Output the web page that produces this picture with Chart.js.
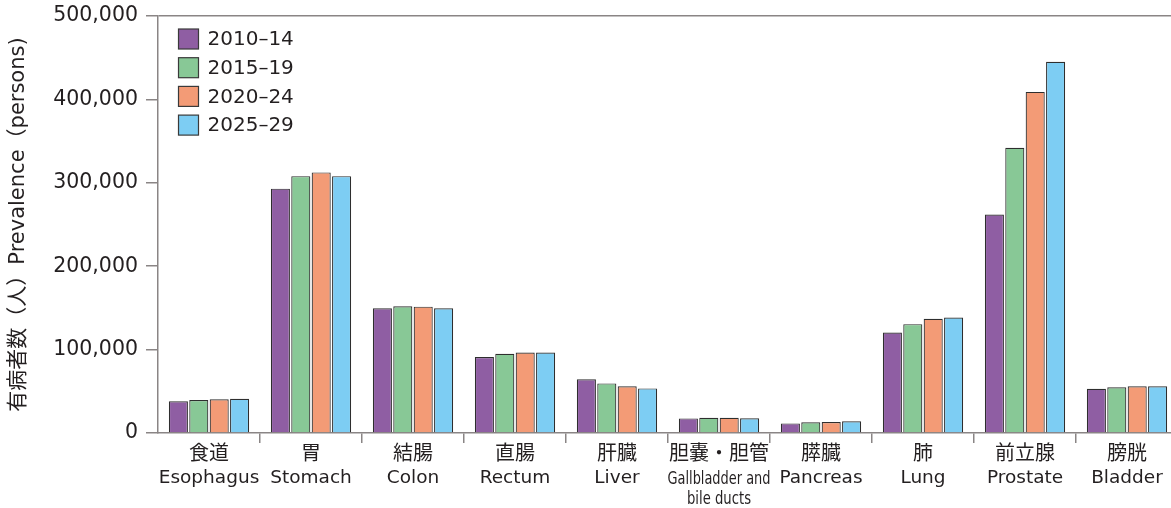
<!DOCTYPE html>
<html>
<head>
<meta charset="utf-8">
<script src="https://cdn.jsdelivr.net/npm/chart.js@4.4.1/dist/chart.umd.min.js"></script>
<style>
  html, body { margin: 0; padding: 0; background: #fff; overflow: hidden; }
  /* plot runs a few px past the right edge of the window, as in the original */
  #wrap { width: 1178px; height: 508px; position: relative; }
</style>
</head>
<body>
<div id="wrap"><canvas id="prevChart"></canvas></div>
<script>
// categories (Japanese line + English line(s))
const categoriesJa = ['食道', '胃', '結腸', '直腸', '肝臓', '胆嚢・胆管', '膵臓', '肺', '前立腺', '膀胱'];
const categoriesEn = [
	['Esophagus'], ['Stomach'], ['Colon'], ['Rectum'], ['Liver'],
	['Gallbladder and', 'bile ducts'], ['Pancreas'], ['Lung'], ['Prostate'], ['Bladder']
];
const periods = ['2010–14', '2015–19', '2020–24', '2025–29'];

// prevalence (persons) per period
const p2010 = [38000, 293000, 149500, 91000, 64500, 17500, 11500, 120500, 262000, 53000];
const p2015 = [39500, 308000, 152000, 95000, 59500, 18300, 12800, 130500, 342000, 54800];
const p2020 = [40500, 312500, 151500, 96500, 56000, 18300, 13200, 137000, 409000, 56000];
const p2025 = [41000, 308000, 149500, 96500, 53500, 17600, 14000, 138500, 445000, 56000];

const yTicks = [0, 100000, 200000, 300000, 400000, 500000];

const colors = ['#8f5ea3', '#88c896', '#f39b76', '#7dcdf3'];
const axisGray = '#8a8585';
const textColor = '#231f20';
const latinFont = '"DejaVu Sans", "Noto Sans CJK JP", sans-serif';

// x labels drawn under the axis, two fonts per label
const xLabelPlugin = {
	id: 'xLabels',
	afterDraw(chart) {
		const ctx = chart.ctx;
		const xs = chart.scales.x;
		ctx.save();
		ctx.fillStyle = textColor;
		ctx.textAlign = 'center';
		categoriesJa.forEach((ja, i) => {
			const px = xs.getPixelForTick(i);
			ctx.font = '20px "Noto Sans CJK JP"';
			ctx.textBaseline = 'middle';
			ctx.fillText(ja, px, xs.top + 19.5);
			ctx.textBaseline = 'alphabetic';
			const en = categoriesEn[i];
			if (en.length > 1) {
				// long label, condensed
				ctx.font = '18px ' + latinFont;
				ctx.fillText(en[0], px, xs.top + 51, 103);
				ctx.fillText(en[1], px, xs.top + 71, 64);
			} else {
				ctx.font = '18.5px ' + latinFont;
				ctx.fillText(en[0], px, xs.top + 50);
			}
		});
		ctx.restore();
	}
};

// legend in the top-left corner of the plot
const legendPlugin = {
	id: 'cornerLegend',
	afterDraw(chart) {
		const ctx = chart.ctx;
		const area = chart.chartArea;
		ctx.save();
		ctx.font = '20px ' + latinFont;
		ctx.textBaseline = 'middle';
		ctx.textAlign = 'left';
		chart.data.datasets.forEach((ds, i) => {
			const bx = area.left + 20.5;
			const by = area.top + 13 + i * 28.7;
			ctx.fillStyle = ds.backgroundColor;
			ctx.fillRect(bx, by, 20, 20);
			ctx.strokeStyle = '#3a3a3a';
			ctx.lineWidth = 1.2;
			ctx.strokeRect(bx, by, 20, 20);
			ctx.fillStyle = textColor;
			ctx.fillText(ds.label, bx + 29, by + 11);
		});
		ctx.restore();
	}
};

document.addEventListener('DOMContentLoaded', function () {
	const ctx = document.getElementById('prevChart').getContext('2d');
	const series = [p2010, p2015, p2020, p2025];
	new Chart(ctx, {
		type: 'bar',
		data: {
			labels: categoriesJa,
			datasets: series.map((vals, i) => ({
				label: periods[i],
				data: vals,
				backgroundColor: colors[i],
				borderColor: '#2e2e2e',
				borderWidth: 1.2,
				categoryPercentage: 0.8,
				barPercentage: 0.935
			}))
		},
		options: {
			responsive: true,
			maintainAspectRatio: false,
			animation: false,
			layout: {
				padding: { top: 16, right: 0, left: 0, bottom: 0 }
			},
			plugins: {
				legend: { display: false },
				tooltip: { enabled: false }
			},
			scales: {
				x: {
					grid: {
						offset: true,
						drawOnChartArea: false,
						tickLength: 10,
						lineWidth: 1.5,
						tickColor: (c) => c.index === 0 ? 'transparent' : axisGray
					},
					border: { color: axisGray, width: 1.5 },
					ticks: { display: false },
					afterFit: (scale) => { scale.height = 75; }
				},
				y: {
					min: 0,
					max: 500000,
					afterBuildTicks: (scale) => {
						scale.ticks = yTicks.map(v => ({ value: v }));
					},
					grid: {
						color: (c) => c.tick && c.tick.value === 500000 ? axisGray : 'transparent',
						tickColor: axisGray,
						tickLength: 12,
						lineWidth: 1.5
					},
					border: { color: axisGray, width: 1.5 },
					ticks: {
						color: textColor,
						padding: 8,
						// small lineHeight keeps the top label from pushing the plot down
						font: { family: latinFont, size: 20.5, lineHeight: 0.5 },
						callback: (v) => v.toLocaleString('en-US')
					},
					title: {
						display: true,
						text: '有病者数（人）Prevalence（persons)',
						color: textColor,
						font: { family: latinFont, size: 21 },
						padding: { top: 6, bottom: 0 }
					},
					afterFit: (scale) => { scale.width = 158; }
				}
			}
		},
		plugins: [xLabelPlugin, legendPlugin]
	});
});
</script>
</body>
</html>
